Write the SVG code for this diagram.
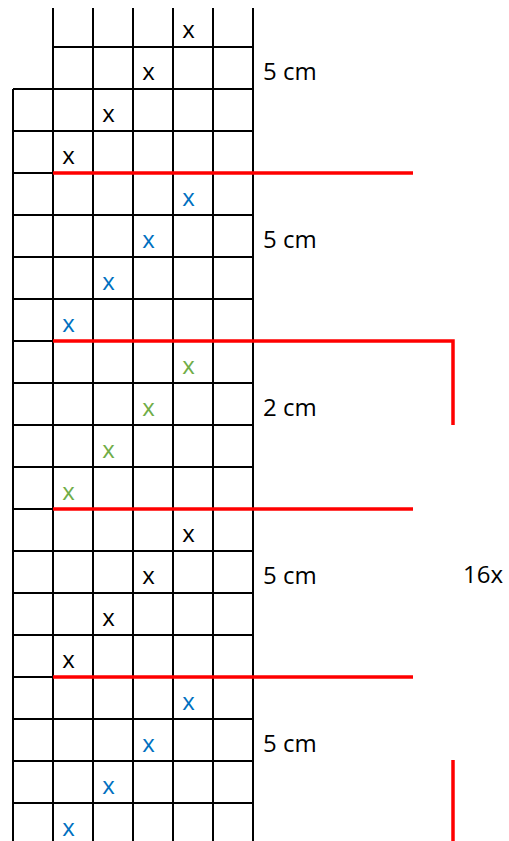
<svg xmlns="http://www.w3.org/2000/svg" width="509" height="841" viewBox="0 0 509 841">
<style>
.g{stroke:#000;stroke-width:2;fill:none}
.r{stroke:#FF0000;stroke-width:3.5;fill:none}
text{font-family:"Open Sans","Liberation Sans",sans-serif;font-size:24px}
.k{fill:#000}.b{fill:#0070C0}.gr{fill:#70AD47}
.x{text-anchor:middle}
</style>
<rect width="509" height="841" fill="#fff"/>
<g id="grid" class="g">
<path d="M53 8V841M93 8V841M133 8V841M173 8V841M213 8V841M253 8V841M13 89V841"/>
<path d="M53 47H253M13 89H253M13 131H253M13 173H253M13 215H253M13 257H253M13 299H253M13 341H253M13 383H253M13 425H253M13 467H253M13 509H253M13 551H253M13 593H253M13 635H253M13 677H253M13 719H253M13 761H253M13 803H253"/>
</g>
<g id="marks">
<text class="x k" x="188.5" y="38">x</text>
<text class="x k" x="148.5" y="80">x</text>
<text class="x k" x="108.5" y="122">x</text>
<text class="x k" x="68.5" y="164">x</text>
<text class="x b" x="188.5" y="206">x</text>
<text class="x b" x="148.5" y="248">x</text>
<text class="x b" x="108.5" y="290">x</text>
<text class="x b" x="68.5" y="332">x</text>
<text class="x gr" x="188.5" y="374">x</text>
<text class="x gr" x="148.5" y="416">x</text>
<text class="x gr" x="108.5" y="458">x</text>
<text class="x gr" x="68.5" y="500">x</text>
<text class="x k" x="188.5" y="542">x</text>
<text class="x k" x="148.5" y="584">x</text>
<text class="x k" x="108.5" y="626">x</text>
<text class="x k" x="68.5" y="668">x</text>
<text class="x b" x="188.5" y="710">x</text>
<text class="x b" x="148.5" y="752">x</text>
<text class="x b" x="108.5" y="794">x</text>
<text class="x b" x="68.5" y="836">x</text>
</g>
<g id="connectors" class="r">
<path d="M53 173H413"/>
<path d="M53 341H453V425"/>
<path d="M53 509H413"/>
<path d="M53 677H413"/>
<path d="M453 760V841"/>
</g>
<g id="labels" class="k">
<text x="263" y="80">5 cm</text>
<text x="263" y="248">5 cm</text>
<text x="263" y="416">2 cm</text>
<text x="263" y="584">5 cm</text>
<text x="263" y="752">5 cm</text>
<text x="463" y="583">16x</text>
</g>
</svg>
